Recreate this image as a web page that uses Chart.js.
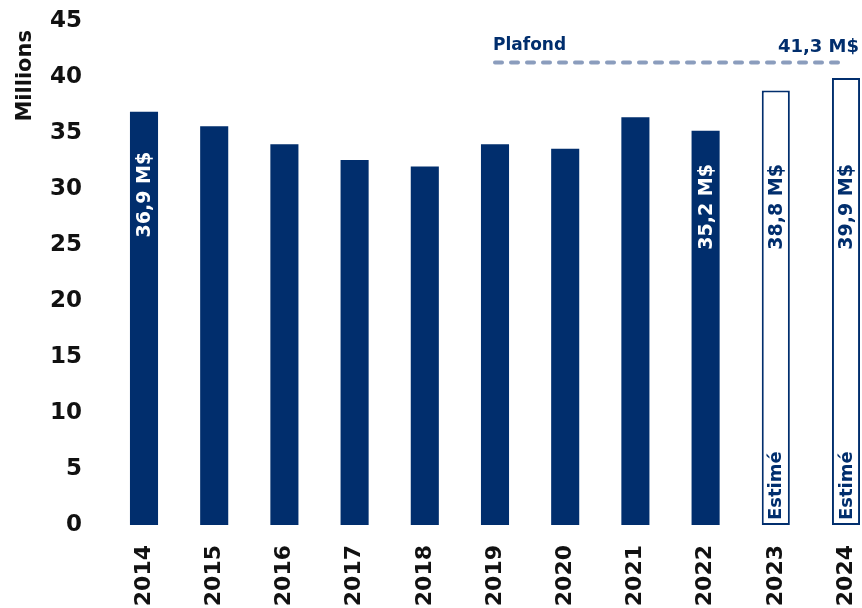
<!DOCTYPE html>
<html>
<head>
<meta charset="utf-8">
<script src="https://cdn.jsdelivr.net/npm/chart.js@4/dist/chart.umd.min.js"></script>
<style>
html,body{margin:0;padding:0;background:#fff;overflow:hidden;}
#wrap{width:862px;height:608px;position:relative;}
</style>
</head>
<body>
<div id="wrap"><canvas id="c"></canvas></div>
<script>
const categories = ['2014','2015','2016','2017','2018','2019','2020','2021','2022','2023','2024'];
const actualValues = [36.9, 35.6, 34.0, 32.6, 32.0, 34.0, 33.6, 36.4, 35.2, null, null];
const estimatedValues = [null, null, null, null, null, null, null, null, null, 38.8, 39.9];
const plafondValues = [null, null, null, null, null, 41.3, 41.3, 41.3, 41.3, 41.3, 41.3];
const valueLabels = ['36,9 M$', '', '', '', '', '', '', '', '35,2 M$', '38,8 M$', '39,9 M$'];
const estimateLabels = ['', '', '', '', '', '', '', '', '', 'Estimé', 'Estimé'];
const plafondTitle = 'Plafond';
const plafondLabel = '41,3 M$';
const yTicks = [0, 5, 10, 15, 20, 25, 30, 35, 40, 45];
const yTitle = 'Millions';

const NAVY = '#012e6d';
const FONT = "'DejaVu Sans', sans-serif";

const annot = {
  id: 'annot',
  afterDatasetsDraw(chart) {
    const ctx = chart.ctx;
    const x = chart.scales.x, y = chart.scales.y;
    ctx.save();
    ctx.font = 'bold 19px ' + FONT;
    ctx.textBaseline = 'middle';
    ctx.textAlign = 'center';
    categories.forEach((c, i) => {
      if (!valueLabels[i]) return;
      const px = x.getPixelForValue(i);
      const py = y.getPixelForValue(i === 0 ? 29.5 : 28.4);
      ctx.save();
      ctx.translate(px, py);
      ctx.rotate(-Math.PI / 2);
      ctx.fillStyle = actualValues[i] != null ? '#ffffff' : NAVY;
      ctx.fillText(valueLabels[i], 0, 1);
      ctx.restore();
    });
    ctx.textAlign = 'left';
    ctx.font = 'bold 18px ' + FONT;
    categories.forEach((c, i) => {
      if (!estimateLabels[i]) return;
      const px = x.getPixelForValue(i);
      const py = y.getPixelForValue(0) - 5;
      ctx.save();
      ctx.translate(px, py);
      ctx.rotate(-Math.PI / 2);
      ctx.fillStyle = NAVY;
      ctx.fillText(estimateLabels[i], 0, 1);
      ctx.restore();
    });
    const yp = y.getPixelForValue(41.3);
    ctx.fillStyle = NAVY;
    ctx.font = 'bold 17px ' + FONT;
    ctx.textBaseline = 'alphabetic';
    ctx.textAlign = 'left';
    ctx.fillText(plafondTitle, x.getPixelForValue(5) - 2, yp - 12);
    ctx.font = 'bold 18px ' + FONT;
    ctx.textAlign = 'right';
    ctx.fillText(plafondLabel, chart.width - 3, yp - 10);
    ctx.save();
    ctx.font = 'bold 21px ' + FONT;
    ctx.fillStyle = '#111111';
    ctx.textAlign = 'right';
    ctx.textBaseline = 'middle';
    ctx.translate(26, 30);
    ctx.rotate(-Math.PI / 2);
    ctx.fillText(yTitle, 0, 0);
    ctx.restore();
    ctx.restore();
  }
};

new Chart(document.getElementById('c'), {
  type: 'bar',
  data: {
    labels: categories,
    datasets: [
      {
        type: 'line',
        data: plafondValues,
        borderColor: '#8b9dbd',
        borderWidth: 4,
        borderDash: [7, 9],
        borderCapStyle: 'round',
        pointRadius: 0,
        fill: false,
        clip: false,
        order: 0
      },
      {
        data: actualValues,
        backgroundColor: NAVY,
        borderWidth: 0,
        categoryPercentage: 0.8,
        barPercentage: 0.5,
        grouped: false,
        clip: false,
        order: 1
      },
      {
        data: estimatedValues,
        backgroundColor: '#ffffff',
        borderColor: NAVY,
        borderWidth: 2,
        borderSkipped: false,
        categoryPercentage: 0.8,
        barPercentage: 0.5,
        grouped: false,
        clip: false,
        order: 1
      }
    ]
  },
  options: {
    responsive: true,
    maintainAspectRatio: false,
    animation: false,
    layout: { autoPadding: false, padding: { left: 49, right: 16, top: 21, bottom: 0 } },
    plugins: { legend: { display: false }, tooltip: { enabled: false } },
    scales: {
      x: {
        offset: false,
        grid: { display: false, drawTicks: false },
        border: { display: false },
        ticks: {
          color: '#111111',
          font: { family: FONT, weight: 'bold', size: 22 },
          minRotation: 90,
          maxRotation: 90,
          padding: 20,
          autoSkip: false
        },
        afterFit(axis) {
          axis.height = 83;
          axis.paddingLeft = 0;
          axis.paddingRight = 0;
        }
      },
      y: {
        min: 0,
        max: 45,
        afterBuildTicks(axis) { axis.ticks = yTicks.map(v => ({ value: v })); },
        grid: { display: false, drawTicks: false },
        border: { display: false },
        ticks: {
          color: '#111111',
          font: { family: FONT, weight: 'bold', size: 23 },
          padding: 62
        },
        afterFit(axis) {
          axis.width = 95;
          axis.paddingTop = 0;
          axis.paddingBottom = 0;
        }
      }
    }
  },
  plugins: [annot]
});
</script>
</body>
</html>
